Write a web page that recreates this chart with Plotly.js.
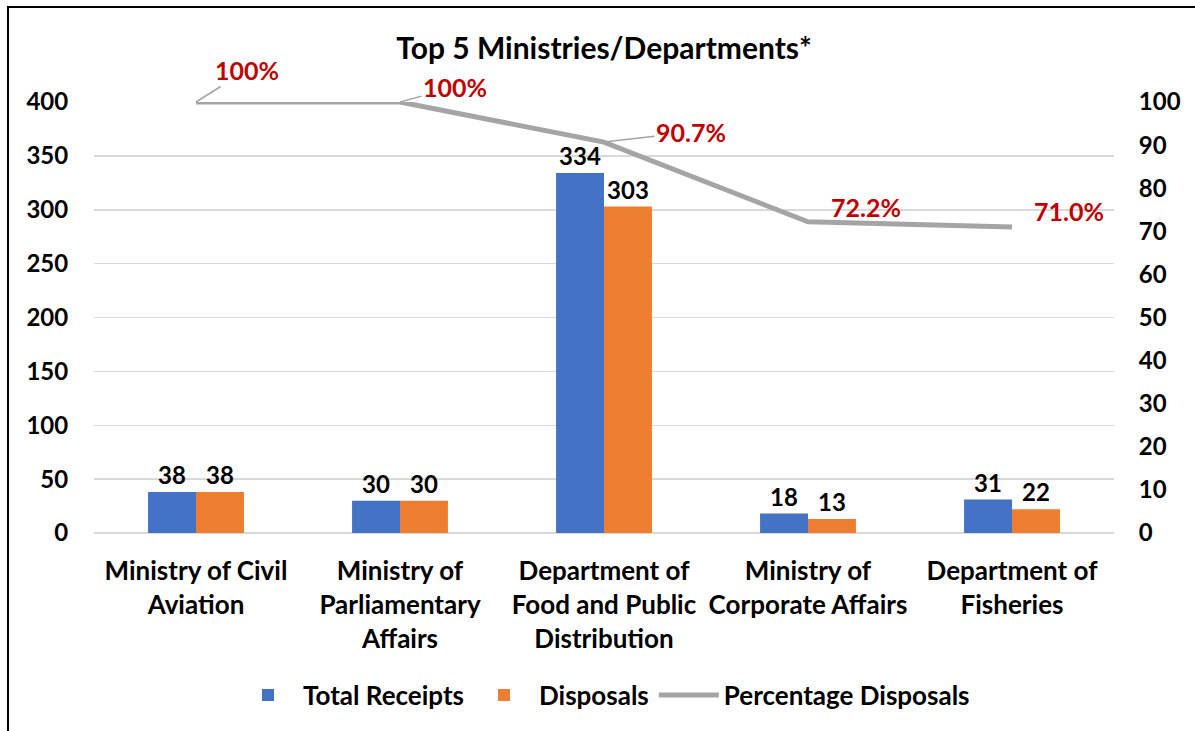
<!DOCTYPE html>
<html>
<head>
<meta charset="utf-8">
<script src="https://cdn.plot.ly/plotly-3.0.1.min.js"></script>
<style>
  html, body { margin:0; padding:0; background:#fff; overflow:hidden; }
  #chart { width:1195px; height:731px; }
  #frame { position:absolute; left:7px; top:6px; width:1400px; height:1000px; border-left:2px solid #000; border-top:2px solid #000; pointer-events:none; }
</style>
</head>
<body>
<div id="chart"></div>
<div id="frame"></div>
<script>
const categories = [
  "Ministry of Civil<br>Aviation",
  "Ministry of<br>Parliamentary<br>Affairs",
  "Department of<br>Food and Public<br>Distribution",
  "Ministry of<br>Corporate Affairs",
  "Department of<br>Fisheries"
];
const totalReceipts = [38, 30, 334, 18, 31];
const disposals = [38, 30, 303, 13, 22];
const percentageDisposals = [100, 100, 90.7, 72.2, 71.0];
const leftTicks = [0, 50, 100, 150, 200, 250, 300, 350, 400];
const rightTicks = [0, 10, 20, 30, 40, 50, 60, 70, 80, 90, 100];

const FONT = "Lato, 'Open Sans', sans-serif";
const fmtPct = v => (v === 100 ? "100%" : v.toFixed(1) + "%");

const traces = [
  {
    type: "bar", name: "Total Receipts", x: categories, y: totalReceipts,
    marker: { color: "#4472C4" },
    text: totalReceipts.map(String), textposition: "outside", cliponaxis: false,
    textfont: { family: FONT, size: 24, color: "#000", weight: "bold" }
  },
  {
    type: "bar", name: "Disposals", x: categories, y: disposals,
    marker: { color: "#ED7D31" },
    text: disposals.map(String), textposition: "outside", cliponaxis: false,
    textfont: { family: FONT, size: 24, color: "#000", weight: "bold" }
  },
  {
    type: "scatter", mode: "lines", name: "Percentage Disposals",
    x: categories, y: percentageDisposals, yaxis: "y2",
    line: { color: "#A5A5A5", width: 5 }, cliponaxis: false
  }
];

const offsets = [
  { arrow: true, ax: 51, ay: -32 },
  { arrow: true, ax: 55, ay: -15 },
  { arrow: true, ax: 87, ay: -10 },
  { arrow: false, xs: 58, ys: 15 },
  { arrow: false, xs: 57, ys: 16 }
];

const annotations = percentageDisposals.map((v, i) => {
  const o = offsets[i];
  const a = {
    x: categories[i], y: v, xref: "x", yref: "y2",
    text: fmtPct(v),
    font: { family: FONT, size: 25, color: "#C00000", weight: "bold" }
  };
  if (o.arrow) {
    Object.assign(a, { showarrow: true, ax: o.ax, ay: o.ay, arrowhead: 0, arrowwidth: 1.5, arrowcolor: "#A5A5A5" });
  } else {
    Object.assign(a, { showarrow: false, xshift: o.xs, yshift: o.ys });
  }
  return a;
});

const layout = {
  width: 1195, height: 731,
  margin: { l: 94, r: 81, t: 102, b: 198 },
  paper_bgcolor: "rgba(0,0,0,0)", plot_bgcolor: "#fff",
  font: { family: FONT, color: "#000" },
  title: {
    text: "Top 5 Ministries/Departments*",
    font: { family: FONT, size: 30, color: "#000", weight: "bold" },
    x: 0.5, xref: "paper", xanchor: "center",
    y: 1 - 48 / 731, yref: "container", yanchor: "middle"
  },
  barmode: "group", bargap: 0.53, bargroupgap: 0,
  showlegend: true,
  legend: {
    orientation: "h", x: 0.5, xanchor: "center", y: -0.376, yanchor: "middle",
    font: { family: FONT, size: 26, color: "#000", weight: "bold" },
    itemwidth: 60, traceorder: "normal"
  },
  xaxis: {
    type: "category", showgrid: false, zeroline: false, showline: false,
    ticks: "outside", ticklen: 15, tickcolor: "rgba(0,0,0,0)",
    tickfont: { family: FONT, size: 26, color: "#000", weight: "bold" },
    automargin: false
  },
  yaxis: {
    range: [0, 400], tickvals: leftTicks, showgrid: true, gridcolor: "#D9D9D9", gridwidth: 1.5,
    zeroline: true, zerolinecolor: "#D9D9D9", zerolinewidth: 1.5, showline: false,
    ticks: "outside", ticklen: 20, tickcolor: "rgba(0,0,0,0)",
    tickfont: { family: FONT, size: 24, color: "#000", weight: "bold" },
    automargin: false
  },
  yaxis2: {
    range: [0, 100], tickvals: rightTicks, overlaying: "y", side: "right",
    showgrid: false, zeroline: false, showline: false,
    ticks: "outside", ticklen: 19, tickcolor: "rgba(0,0,0,0)",
    tickfont: { family: FONT, size: 24, color: "#000", weight: "bold" },
    automargin: false
  },
  annotations: annotations
};

Plotly.newPlot("chart", traces, layout, { displayModeBar: false, staticPlot: true });
</script>
</body>
</html>
